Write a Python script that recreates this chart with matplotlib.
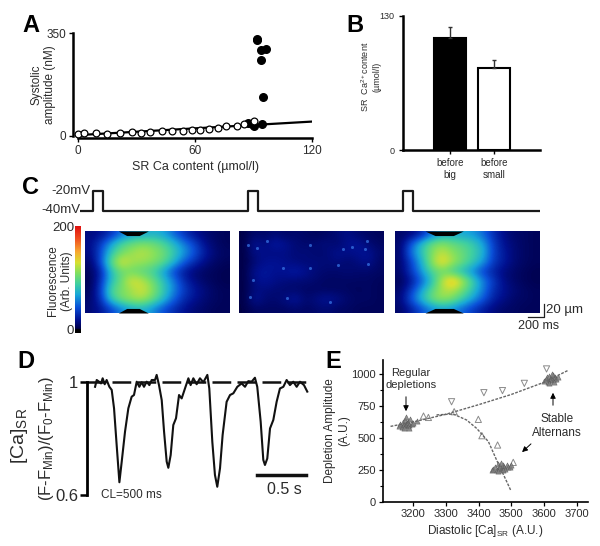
import numpy as np
import matplotlib
matplotlib.use('Agg')
import matplotlib.pyplot as plt
from matplotlib.colors import LinearSegmentedColormap

plt.rcParams['font.family'] = ['Liberation Sans', 'DejaVu Sans']
plt.rcParams['mathtext.default'] = 'regular'

W, H = 600, 546
DARK = '#2b2b2b'

# panel A
open_x = [0, 2.9, 9.1, 15.1, 21.4, 27.8, 32.1, 36.7, 42.9, 48, 53.7, 58.3, 62.7, 67.2, 72, 75.9, 81.4, 85.3, 90.3]
open_y = [8, 9, 9, 8, 9, 12.5, 11, 15, 17, 17, 17, 20, 22, 24, 28.5, 34, 34, 40, 52]
big_x = [92, 91.7, 94, 96.3, 94, 94.8, 87, 89, 90, 94.3]
big_y = [329, 325, 291, 295, 257, 131, 45, 41, 34, 41]
fit_x = [0, 120]
fit_y = [3, 49]

# panel B
bar_labels = ['before\nbig', 'before\nsmall']
bar_vals = [108.7, 79.7]
bar_err = [10.5, 7]

# panel C
volt_t = [0, 156, 156, 276, 276, 2016, 2016, 2136, 2136, 3876, 3876, 3996, 3996, 5520]
volt_v = [-40, -40, -20, -20, -40, -40, -20, -20, -40, -40, -20, -20, -40, -40]
line_big1 = [[20, 24, 36, 55, 70, 72, 76, 72, 55, 38, 25, 18, 14, 12],
             [22, 40, 70, 95, 105, 112, 108, 98, 82, 62, 45, 25, 16, 12],
             [20, 45, 85, 108, 118, 125, 118, 108, 90, 70, 50, 30, 18, 14],
             [15, 45, 100, 135, 120, 118, 112, 102, 80, 52, 35, 22, 15, 12],
             [12, 30, 80, 105, 105, 100, 92, 72, 45, 28, 18, 14, 12, 10],
             [10, 35, 80, 105, 135, 125, 108, 85, 62, 35, 22, 15, 12, 10],
             [12, 40, 95, 110, 118, 132, 115, 90, 65, 42, 28, 20, 14, 12],
             [15, 35, 85, 108, 118, 122, 105, 82, 55, 35, 25, 18, 14, 12],
             [18, 26, 42, 60, 72, 76, 65, 48, 35, 25, 18, 15, 12, 12]]
line_small = [[8, 16, 14, 18, 14, 16, 14, 12, 14, 18, 22, 16, 14, 12],
              [8, 26, 20, 30, 24, 18, 16, 18, 20, 16, 24, 26, 18, 14],
              [8, 22, 22, 20, 22, 18, 20, 16, 18, 24, 22, 24, 26, 16],
              [8, 18, 24, 26, 22, 20, 18, 20, 18, 20, 16, 20, 24, 14],
              [8, 24, 28, 24, 26, 30, 24, 18, 16, 16, 18, 16, 16, 14],
              [8, 22, 26, 22, 20, 18, 18, 16, 14, 14, 14, 14, 14, 12],
              [8, 20, 20, 18, 16, 16, 14, 14, 14, 14, 14, 12, 14, 12],
              [8, 26, 18, 16, 22, 28, 16, 22, 26, 22, 16, 14, 14, 12],
              [8, 14, 14, 14, 14, 16, 14, 16, 18, 14, 14, 12, 12, 12]]
line_big2 = [[15, 18, 30, 55, 72, 74, 72, 68, 55, 35, 22, 15, 14, 12],
             [15, 48, 80, 105, 115, 105, 98, 90, 72, 42, 25, 18, 14, 12],
             [15, 55, 82, 110, 128, 115, 105, 92, 78, 42, 28, 18, 14, 12],
             [15, 40, 72, 112, 142, 122, 105, 88, 68, 40, 28, 18, 14, 12],
             [15, 38, 65, 95, 105, 90, 78, 62, 42, 30, 20, 15, 12, 10],
             [12, 25, 50, 78, 122, 155, 125, 92, 62, 40, 22, 15, 12, 10],
             [15, 38, 68, 98, 120, 125, 108, 85, 60, 35, 25, 18, 14, 12],
             [18, 48, 78, 105, 118, 110, 90, 70, 50, 30, 22, 15, 14, 12],
             [15, 28, 45, 62, 70, 66, 52, 40, 28, 20, 15, 14, 12, 12]]
notch_big1 = [400, 500, 650, 760]
notch_big2 = [360, 480, 700, 820]
notch_depth = [0, 7, 7, 0]
spot_t = [336, 216, 108, 132, 570, 170, 530, 852, 1250, 1350, 1530, 1550, 1190, 1510, 1090, 850]
spot_d = [16, 26, 21, 101, 103, 75, 57, 21, 28, 25, 16, 50, 53, 28, 109, 57]

# panel D
trace_t = [0.086, 0.103, 0.127, 0.147, 0.164, 0.185, 0.205, 0.233, 0.257, 0.281, 0.308, 0.336, 0.360, 0.394, 0.428,
           0.462, 0.486, 0.514, 0.541, 0.565, 0.589, 0.616, 0.644, 0.668, 0.702, 0.719, 0.743, 0.771, 0.795, 0.822,
           0.839, 0.863, 0.890, 0.918, 0.949, 0.976, 1.010, 1.045, 1.068, 1.096, 1.130, 1.164, 1.199, 1.240, 1.260,
           1.291, 1.318, 1.342, 1.370, 1.397, 1.438, 1.473, 1.507, 1.548, 1.592, 1.627, 1.661, 1.695, 1.729, 1.753,
           1.788, 1.815, 1.832, 1.856, 1.884, 1.918, 1.952, 1.986, 2.021, 2.055, 2.089, 2.123, 2.158, 2.192, 2.233, 2.267]
trace_v = [.982, 1.006, 1, .994, 1.012, .991, 1.006, .982, .971, .906, .776, .645, .718, .824, .906,
           .947, .953, 1, .982, .998, .982, 1, .988, 1.006, 1.006, 1.024, .988, .935, .824, .718,
           .696, .741, .847, .871, .953, .941, .976, 1.012, .988, 1.012, .991, 1.012, .998, 1.024, .976,
           .788, .671, .629, .694, .812, .929, .953, .959, .982, .994, .982, 1.002, 1, 1.014, .982,
           .859, .724, .706, .729, .835, .865, .929, .976, .982, 1.006, .988, 1, .982, 1, .988, .965]

# panel E
upper_x = [3130, 3200, 3300, 3400, 3500, 3600, 3675]
upper_y = [590, 625, 685, 760, 840, 935, 1030]
lower_x = [3271, 3322, 3363, 3394, 3430, 3455, 3480, 3498]
lower_y = [680, 687, 640, 574, 470, 326, 190, 91]
down_x = [3317, 3416, 3473, 3540, 3608]
down_y = [783, 854, 870, 927, 1040]
up_x = [3231, 3246, 3325, 3399, 3410, 3458, 3506]
up_y = [671, 660, 705, 645, 517, 444, 308]
reg_x = [3155, 3160, 3165, 3168, 3172, 3175, 3178, 3180, 3182, 3185, 3188, 3190, 3195, 3200, 3170, 3178, 3186, 3210]
reg_y = [590, 610, 585, 625, 600, 640, 605, 615, 590, 625, 600, 650, 610, 620, 575, 660, 580, 630]
low_x = [3440, 3445, 3450, 3455, 3458, 3462, 3465, 3470, 3474, 3478, 3482, 3486, 3490, 3495, 3500, 3460, 3468, 3476]
low_y = [245, 255, 270, 250, 295, 265, 280, 260, 285, 270, 255, 285, 270, 275, 290, 240, 300, 245]
high_x = [3600, 3606, 3610, 3613, 3616, 3619, 3622, 3625, 3628, 3631, 3634, 3638, 3642, 3615, 3624, 3632]
high_y = [945, 960, 975, 940, 985, 955, 970, 950, 990, 960, 975, 965, 980, 930, 1000, 940]


def px_axes(x0, y0, x1, y1, **kw):
    return fig.add_axes([x0 / W, 1 - y1 / H, (x1 - x0) / W, (y1 - y0) / H], **kw)


def clean(ax, lw=1.8):
    ax.patch.set_alpha(0)
    ax.spines['top'].set_visible(False)
    ax.spines['right'].set_visible(False)
    ax.spines['left'].set_linewidth(lw)
    ax.spines['bottom'].set_linewidth(lw)


fig = plt.figure(figsize=(6, 5.46), dpi=100)

# A
ax = px_axes(78, 33, 312, 136)
clean(ax)
ax.plot(fit_x, fit_y, color='black', lw=1.6, zorder=1)
ax.scatter(big_x, big_y, s=30, color='black', zorder=2, clip_on=False)
ax.scatter(open_x, open_y, s=24, facecolor='white', edgecolor='black', linewidth=0.9, zorder=3, clip_on=False)
ax.set_xlim(0, 120)
ax.set_ylim(0, 350)
ax.spines['left'].set_position(('outward', 3.6))
ax.spines['bottom'].set_position(('outward', 1.5))
ax.set_xticks([0, 60, 120])
ax.set_yticks([0, 350])
ax.tick_params(labelsize=8.5, labelcolor=DARK, length=3, width=1, pad=2)
ax.set_xlabel('SR Ca content (µmol/l)', fontsize=9, color=DARK, labelpad=3)

# B
ax = px_axes(403, 15.7, 540, 150)
clean(ax)
ax.bar([0, 1], bar_vals, width=0.727, color=['black', 'white'], edgecolor='black', linewidth=1.5)
ax.errorbar([0, 1], bar_vals, yerr=[[0, 0], bar_err], fmt='none', ecolor='#333333', elinewidth=1, capsize=1.2)
ax.set_xlim(-1.068, 2.045)
ax.set_ylim(0, 130)
ax.set_xticks([0, 1])
ax.set_xticklabels(bar_labels)
ax.set_yticks([0, 130])
ax.tick_params(labelsize=6.5, labelcolor=DARK, length=3, width=1, pad=3)
ax.tick_params(axis='x', labelsize=7)

# C
ax = px_axes(80, 185, 540, 215)
ax.plot(volt_t, volt_v, color='#1a1a1a', lw=1.6)
ax.set_xlim(0, 5520)
ax.set_ylim(-44, -14.3)
ax.axis('off')

cmap = LinearSegmentedColormap.from_list('fluo', [
    (0, 'black'), (0.03, 'black'), (0.04, '#00004a'), (0.12, '#001090'), (0.24, '#0a50d8'),
    (0.36, '#18a8d8'), (0.46, '#40d0a0'), (0.56, '#80e060'), (0.66, '#d8e030'),
    (0.76, '#f8a830'), (0.88, '#f05020'), (1, '#e01010')])

for x0, grid, notch in [(85, line_big1, notch_big1), (239, line_small, None), (395, line_big2, notch_big2)]:
    ax = px_axes(x0, 231, x0 + 145, 313)
    ax.imshow(grid, cmap=cmap, vmin=0, vmax=200, aspect='auto', interpolation='bicubic',
              extent=[0, 1740, 126, 0])
    if notch:
        ax.fill_between(notch, notch_depth, color='black', lw=0)
        ax.fill_between(notch, [126 - d for d in notch_depth], 126, color='black', lw=0)
    else:
        ax.scatter(spot_t, spot_d, s=5, color='#3a78e8', alpha=0.7, linewidths=0)
    ax.set_xlim(0, 1740)
    ax.set_ylim(126, 0)
    ax.axis('off')

ax = px_axes(75, 226, 80.5, 333)
ax.imshow(np.linspace(200, 0, 256).reshape(-1, 1), cmap=cmap, vmin=0, vmax=200, aspect='auto')
ax.axis('off')

# D
ax = px_axes(86.7, 381.7, 310, 495)
clean(ax, 2)
ax.spines['bottom'].set_visible(False)
ax.plot(trace_t, trace_v, color='#111111', lw=1.5, clip_on=False, zorder=3)
ax.plot([0, 2.3], [1, 1], color='#111111', lw=1.8, dashes=(7.5, 2.5), clip_on=False)
ax.set_xlim(0, 2.295)
ax.set_ylim(0.6, 1)
ax.set_xticks([])
ax.set_yticks([0.6, 1])
ax.set_yticklabels(['0.6', '1'])
ax.tick_params(labelsize=12, labelcolor=DARK, length=5, width=1.8, pad=1)

# E
ax = px_axes(382.7, 360, 588, 501.7)
clean(ax, 1.2)
ax.plot(upper_x, upper_y, color='#666666', lw=1, ls=(0, (2, 1)))
ax.plot(lower_x, lower_y, color='#666666', lw=1, ls=(0, (2, 1)))
ax.scatter(down_x, down_y, marker='v', s=20, facecolor='none', edgecolor='#8a8a8a', linewidth=0.7)
ax.scatter(up_x, up_y, marker='^', s=20, facecolor='none', edgecolor='#8a8a8a', linewidth=0.7)
for cx, cy in [(reg_x, reg_y), (low_x, low_y), (high_x, high_y)]:
    ax.scatter(cx, cy, marker='^', s=14, facecolor='#808080', edgecolor='#555555', linewidth=0.4, alpha=0.85)
ax.set_xlim(3106, 3735)
ax.set_ylim(0, 1110)
ax.set_xticks([3200, 3300, 3400, 3500, 3600, 3700])
ax.set_yticks([0, 250, 500, 750, 1000])
ax.set_yticks([125, 375, 625, 875], minor=True)
ax.tick_params(labelsize=8, labelcolor=DARK, length=3, width=0.9, pad=2)
ax.tick_params(which='minor', length=2, width=0.8)
ax.set_xlabel(r'Diastolic [Ca]$_{SR}$ (A.U.)', fontsize=8.5, color=DARK, labelpad=3)

# overlay in picture pixels: letters, labels, scale bars, arrows
ov = fig.add_axes([0, 0, 1, 1])
ov.set_xlim(0, W)
ov.set_ylim(H, 0)
ov.axis('off')
ov.patch.set_alpha(0)

for s, x, y in [('A', 22, 26), ('B', 346, 25), ('C', 22, 187), ('D', 17, 361), ('E', 325, 362)]:
    ov.text(x, y, s, fontsize=17, fontweight='bold', ha='left', va='center', color='black')

ov.text(43, 85, 'Systolic\namplitude (nM)', rotation=90, fontsize=8.5, color=DARK, ha='center', va='center', linespacing=1.2)
ov.text(370, 77, 'SR  Ca$^{2+}$content\n(µmol/l)', rotation=90, fontsize=6.5, color=DARK, ha='center', va='center')

ov.text(91, 191, '-20mV', fontsize=9.5, ha='right', va='center', color=DARK)
ov.text(80, 210, '-40mV', fontsize=9.5, ha='right', va='center', color=DARK)
ov.text(74, 228, '200', fontsize=9.5, ha='right', va='center', color=DARK)
ov.text(74, 331, '0', fontsize=9.5, ha='right', va='center', color=DARK)
ov.text(60, 281, 'Fluorescence\n(Arb. Units)', rotation=90, fontsize=8.5, color=DARK, ha='center', va='center', linespacing=1.2)
ov.plot([527.5, 544, 544, 544], [317, 317, 317, 304], color='#222222', lw=0.9)
ov.text(546, 310, '20 µm', fontsize=9.5, fontweight='medium', ha='left', va='center', color=DARK)
ov.text(518, 326, '200 ms', fontsize=9, ha='left', va='center', color=DARK)

ov.text(20, 436, r'[Ca]$_{SR}$', rotation=90, fontsize=14, color=DARK, ha='center', va='center')
ov.text(47, 438, r'(F-F$_{Min}$)/(F$_0$-F$_{Min}$)', rotation=90, fontsize=12, color=DARK, ha='center', va='center')
ov.plot([257, 306], [475, 475], color='#111111', lw=2.5)
ov.text(284, 490, '0.5 s', fontsize=11.5, ha='center', va='center', color=DARK)
ov.text(131, 495, 'CL=500 ms', fontsize=8.5, ha='center', va='center', color=DARK)

ov.text(337, 431, 'Depletion Amplitude\n(A.U.)', rotation=90, fontsize=8.5, color=DARK, ha='center', va='center', linespacing=1.2)
ov.text(411, 379, 'Regular\ndepletions', fontsize=8, color=DARK, ha='center', va='center', linespacing=1.15)
ov.text(557, 426, 'Stable\nAlternans', fontsize=8.5, color=DARK, ha='center', va='center', linespacing=1.25)
for tail, head in [((406, 394), (406, 414)), ((553, 408), (553, 390)), ((533, 442), (520, 454))]:
    ov.annotate('', xy=head, xytext=tail, arrowprops=dict(arrowstyle='-|>', color='black', lw=0.7, mutation_scale=8))

fig.savefig('out.png', dpi=100)
